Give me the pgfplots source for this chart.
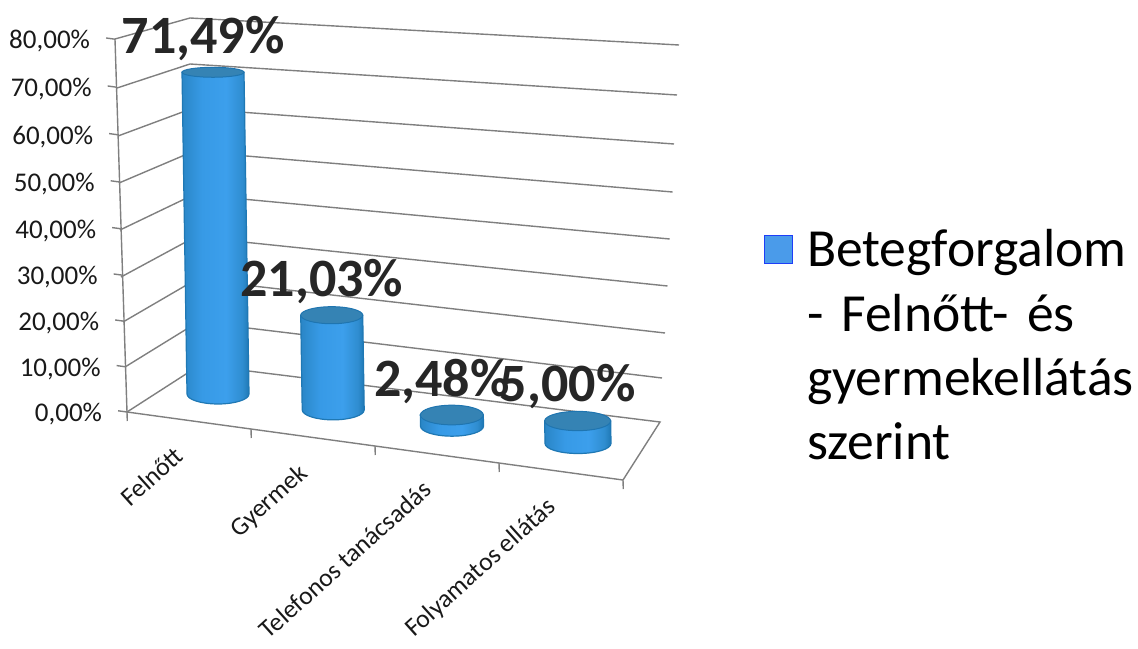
\documentclass[border=0pt]{standalone}
\usepackage{fontspec}
\setmainfont{Carlito}
\usepackage{pgfplots}
\pgfplotsset{compat=1.18}

% 1 px of the reference = 0.5pt
\definecolor{wallline}{HTML}{7F7F7F}
\definecolor{cyltop}{HTML}{3583B4}
\definecolor{cyledge}{HTML}{1F75B0}
\definecolor{legblue}{HTML}{4A9BEA}
\definecolor{cyla}{HTML}{1D6FA6}
\definecolor{cylb}{HTML}{2A86C6}
\definecolor{cylc}{HTML}{379AE6}
\definecolor{cyld}{HTML}{3C9FEC}
\definecolor{cyle}{HTML}{2F8DD0}
\definecolor{cylf}{HTML}{1F78B4}
\pgfdeclarehorizontalshading{cylbody}{100bp}{
  color(0bp)=(cylb); color(25bp)=(cylb);
  color(40bp)=(cylc); color(58bp)=(cyld);
  color(70bp)=(cyle); color(75bp)=(cylf); color(100bp)=(cylf)}

% cylinder: mark sits at the top centre, height comes from the value
\pgfdeclareplotmark{cyl}{%
  \pgfmathsetmacro\hh{\val*2.25}%
  \pgfmathsetmacro\bx{\val*0.035}%
  \pgfmathsetmacro\tr{5-\hh*0.0156}%
  \path[draw=cylf,line width=0.6pt,shading=cylbody] (-\rr pt,0pt) -- (\bx pt-\rr pt,-\hh pt)
    arc[start angle=180,end angle=360,x radius=\rr pt,y radius=5pt]
    -- (\rr pt,0pt) -- cycle;
  \path[fill=cyltop,draw=cyledge,line width=0.5pt] (0pt,0pt) ellipse[x radius=\rr pt,y radius=\tr pt];
}

\begin{document}
\begin{tikzpicture}
\path[use as bounding box] (0,0) rectangle (569pt,324pt);

% walls, in reference pixels
\begin{axis}[at={(0,0)},anchor=south west,scale only axis,width=569pt,height=324pt,
    xmin=0,xmax=1138,ymin=0,ymax=648,y dir=reverse,hide axis,clip=false]
\addplot[wallline,line width=0.7pt,mark=none,unbounded coords=jump] table {
x y
115 39
190 18
679 45
nan nan
117 88
190 64
677 95
nan nan
118 136
192 108.5
674 144
nan nan
119 183
193 151.5
672.6 192
nan nan
120 230
194 194.5
669.7 239
nan nan
121 277
195 237
667.5 286
nan nan
123 322
196 279.5
665 333
nan nan
125 367
198 322
662 378
nan nan
127 412
200 365
660 422
623 480
};
\end{axis}

% the value axis on the front edges
\begin{axis}[at={(63.5pt,118pt)},anchor=origin,
    x={(62pt,-8.5pt)},y={(-0.0161pt,0.5pt)},
    y coord trafo/.code={\pgfmathparse{#1*(4.5+0.002*#1)}},
    xmin=0,xmax=4,ymin=0,ymax=80,
    axis lines=left,axis line style={-,wallline,line width=0.7pt},
    tick align=outside,clip=false,
    major tick length=4.5pt,minor tick length=4.5pt,
    tick style={wallline,line width=0.7pt},
    major x tick style={draw=none},
    ytick={0,10,20,30,40,50,60,70,80},
    yticklabels={{0,00\%},{10,00\%},{20,00\%},{30,00\%},{40,00\%},{50,00\%},{60,00\%},{70,00\%},{80,00\%}},
    yticklabel style={font=\fontsize{13.5}{16}\selectfont,anchor=east,color=black!90,xshift=-4.5pt,yshift=-1.5pt},
    xtick={0.5,1.5,2.5,3.5},minor xtick={0,1,2,3,4},
    xticklabels={Felnőtt,Gyermek,Telefonos tanácsadás,Folyamatos ellátás},
    xticklabel style={font=\fontsize{12.85}{16}\selectfont,xshift=0.5pt,yshift=-12pt,rotate=42,anchor=base east,color=black!90}]
\addplot[draw=none,mark=none,forget plot] coordinates {(0,0) (4,80)};
\end{axis}

% cylinders and labels
\begin{axis}[at={(109pt,127pt)},anchor=origin,
    x={(60pt,-8.25pt)},y={(-0.035pt,2.25pt)},
    xmin=-0.5,xmax=6,ymin=0,ymax=80,hide axis,clip=false,
    legend style={draw=none,fill=none,at={(axis cs:4.575,54.3)},anchor=north west,
      font=\fontsize{26.8}{32.2}\selectfont,
      nodes={text width=172pt,align=left},
      row sep=0pt,inner sep=0pt}]
\addplot[scatter,only marks,mark=cyl,
    visualization depends on={value \thisrow{value} \as \val},
    visualization depends on={value \thisrow{r} \as \rr},
    legend image code/.code={\fill[legblue,draw=blue!60!legblue,line width=0.4pt] (0pt,-7pt) rectangle (14pt,7pt);
      \path[draw=none,fill=none] (0pt,0pt) rectangle (19.5pt,0pt);}]
  table[x=pos,y=value] {
pos value r
0.00 71.49 15.5
0.96 21.03 15.5
1.95 2.48 15.75
3.00 5.00 16.5
};
\addlegendentry{Betegforgalom\\- Felnőtt- és\\gyermekellátás\\szerint}
\addplot[draw=none,mark=none,forget plot,point meta=explicit symbolic,
    nodes near coords,
    every node near coord/.style={anchor=center,xshift=-5pt,yshift=17pt,
      font=\fontsize{27}{30}\bfseries\selectfont,text=black!85}]
  table[x=pos,y=value,meta=label] {
pos value label
0.00 71.49 {71,49\%}
0.96 21.03 {21,03\%}
1.95 2.48 {2,48\%}
3.00 5.00 {5,00\%}
};
\end{axis}
\end{tikzpicture}
\end{document}
